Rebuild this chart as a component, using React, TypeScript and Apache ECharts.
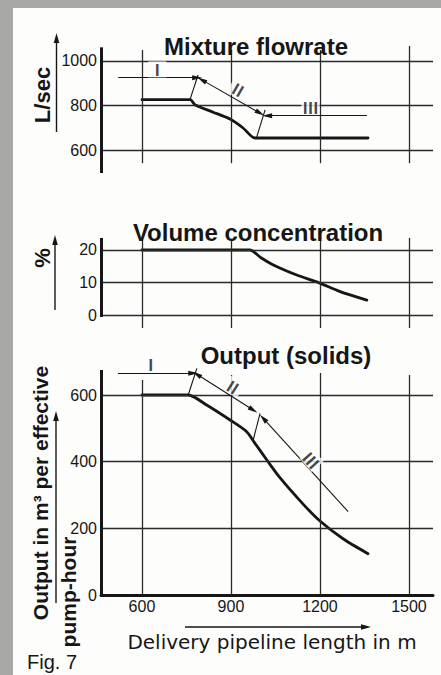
import React, { useEffect, useRef } from "react";
import * as echarts from "echarts";

// ---------- data ----------
const lengthTicks = [600, 900, 1200, 1500];

// Mixture flowrate (L/sec) vs delivery pipeline length (m)
const flowLength = [600, 762, 780, 840, 897, 941, 981, 1362];
const flowRate = [826, 826, 802, 770, 739, 699, 654, 654];
const flowTicks = [600, 800, 1000];

// Volume concentration (%)
const concLength = [600, 964, 1000, 1043, 1122, 1197, 1268, 1358];
const concPct = [20, 20, 17.7, 15.4, 12.3, 9.9, 7.2, 4.6];
const concTicks = [0, 10, 20];

// Output (solids), m3 per effective pump-hour
const outLength = [600, 756, 818, 897, 953, 981, 1021, 1065, 1144, 1200, 1279, 1362];
const outSolids = [600, 600, 570, 525, 490, 455, 405, 352, 272, 222, 168, 124];
const outTicks = [0, 200, 400, 600];

// Region annotations (data coordinates): [x1, y1, x2, y2, arrowAtStart, arrowAtEnd]
const flowRegionLines = [
  [520, 925, 786, 925, 0, 1],
  [789, 937, 762, 826, 0, 0],
  [802, 915, 998, 766, 1, 1],
  [1015, 780, 986, 655, 0, 0],
  [1358, 754, 1022, 754, 0, 1],
];
const outRegionLines = [
  [519, 665, 773, 665, 0, 1],
  [785, 680, 756, 600, 0, 0],
  [785, 662, 975, 555, 1, 1],
  [998, 545, 975, 465, 0, 0],
  [1295, 250, 1009, 530, 0, 1],
];
// Region labels: [text, x, y, rotation]
const flowRegionLabels: [string, number, number, number][] = [
  ["Ⅰ", 652, 962, 0],
  ["Ⅱ", 925, 873, -30],
  ["Ⅲ", 1168, 793, 0],
];
const outRegionLabels: [string, number, number, number][] = [
  ["Ⅰ", 630, 692, 0],
  ["Ⅱ", 908, 625, -32],
  ["Ⅲ", 1172, 405, -48],
];

// ---------- styling ----------
const INK = "#161616";
const GRID_INK = "#2a2a2a";
const SANS = '"Liberation Sans", Arial, sans-serif';
const X_MIN = 462;
const X_MAX = 1581;

function seg(a: number[], b: number[], width: number, color: string, s0 = 0, s1 = 0) {
  return [
    { coord: a, symbol: s0 ? "triangle" : "none", symbolSize: [5, 10], lineStyle: { width, color, type: "solid" } },
    { coord: b, symbol: s1 ? "triangle" : "none", symbolSize: [5, 10] },
  ];
}

function gridLines(hVals: number[], vLines: number[][], axis: number[]) {
  const out: any[] = [];
  hVals.forEach((v) => out.push(seg([X_MIN, v], [X_MAX, v], 1.3, GRID_INK)));
  vLines.forEach(([x, y0, y1]) => out.push(seg([x, y0], [x, y1], 1.3, GRID_INK)));
  out.push(seg([X_MIN, axis[0]], [X_MIN, axis[1]], 3, INK));
  return out;
}

function regionLines(list: number[][]) {
  return list.map(([x1, y1, x2, y2, a, b]) => seg([x1, y1], [x2, y2], 1.1, INK, a, b));
}

function frameSeries(i: number, data: any[]) {
  return {
    type: "line",
    xAxisIndex: i,
    yAxisIndex: i,
    data: [],
    z: 1,
    clip: false,
    silent: true,
    markLine: {
      silent: true,
      symbol: ["none", "none"],
      label: { show: false },
      lineStyle: { type: "solid" },
      data,
    },
  };
}

function curveSeries(i: number, xs: number[], ys: number[]) {
  return {
    type: "line",
    xAxisIndex: i,
    yAxisIndex: i,
    data: xs.map((x, k) => [x, ys[k]]),
    symbol: "none",
    smooth: 0.25,
    z: 3,
    lineStyle: { color: INK, width: 2.8, cap: "round", join: "round" },
  };
}

function labelSeries(i: number, list: [string, number, number, number][]) {
  return {
    type: "scatter",
    xAxisIndex: i,
    yAxisIndex: i,
    symbolSize: 1,
    z: 5,
    itemStyle: { color: "transparent" },
    data: list.map(([t, x, y, r]) => ({ name: t, value: [x, y], label: { rotate: r } })),
    label: {
      show: true,
      position: "inside",
      formatter: "{b}",
      fontFamily: '"Noto Sans CJK JP", serif',
      fontWeight: "bold",
      fontSize: 16,
      color: INK,
      backgroundColor: "#fdfdfc",
      padding: [0, 1],
    },
  };
}

function text(t: string, x: number, y: number, size: number, weight: string, opts: any = {}) {
  return {
    type: "text",
    x,
    y,
    z: 50,
    rotation: opts.rotation || 0,
    style: {
      text: t,
      fontSize: size,
      fontWeight: weight,
      fontFamily: opts.family || SANS,
      fill: INK,
      align: opts.align || "center",
      verticalAlign: "middle",
    },
  };
}

function arrowUp(x: number, yBottom: number, yTip: number) {
  return [
    { type: "line", shape: { x1: x, y1: yBottom, x2: x, y2: yTip + 8 }, style: { stroke: INK, lineWidth: 1.4 } },
    { type: "polygon", shape: { points: [[x, yTip], [x - 2.8, yTip + 10], [x + 2.8, yTip + 10]] }, style: { fill: INK } },
  ];
}

const plain = (v: number) => String(v);

export default function App() {
  const ref = useRef<HTMLDivElement>(null);
  useEffect(() => {
    if (!ref.current) return;
    const chart = echarts.init(ref.current, null, { renderer: "svg" });
    const yLabel = { margin: 4, fontSize: 16, color: INK, fontFamily: SANS, formatter: plain };
    chart.setOption({
      animation: false,
      backgroundColor: "#a8a9a4",
      graphic: [
        { type: "rect", z: -10, shape: { x: 13, y: 8, width: 428, height: 667 }, style: { fill: "#fdfdfc" } },
        text("Mixture flowrate", 256, 46, 24, "bold"),
        text("Volume concentration", 258, 232, 24, "bold"),
        text("Output (solids)", 286, 355, 24, "bold"),
        text("L/sec", 42, 95, 22, "bold", { rotation: Math.PI / 2 }),
        text("%", 42, 258, 22, "bold", { rotation: Math.PI / 2 }),
        text("Output in m³ per effective", 40, 493, 21, "bold", { rotation: Math.PI / 2 }),
        text("pump-hour", 68, 592, 21, "bold", { rotation: Math.PI / 2 }),
        text("Delivery pipeline length in m", 272, 642, 20, "normal", { family: '"DejaVu Sans", sans-serif' }),
        text("Fig. 7", 27, 662, 20, "normal", { align: "left" }),
        ...arrowUp(56.5, 132, 33),
        ...arrowUp(55, 310, 235),
        ...arrowUp(56, 603, 411),
        { type: "line", shape: { x1: 185, y1: 627, x2: 362, y2: 627 }, style: { stroke: INK, lineWidth: 1.4 } },
        { type: "polygon", shape: { points: [[371, 627], [361, 624.2], [361, 629.8]] }, style: { fill: INK } },
      ],
      grid: [
        { left: 101, right: 8, top: 46, height: 127 },
        { left: 101, right: 8, top: 236, height: 94 },
        { left: 101, right: 8, top: 361.67, height: 233.33 },
      ],
      xAxis: [0, 1, 2].map((i) => ({
        type: "value",
        gridIndex: i,
        min: X_MIN,
        max: X_MAX,
        show: i === 2,
        axisLine: { show: i === 2, lineStyle: { color: INK, width: 3 } },
        axisTick: { show: false },
        splitLine: { show: false },
        axisLabel: { show: i === 2, customValues: lengthTicks, margin: 3, fontSize: 16, color: INK, fontFamily: SANS, formatter: plain },
      })),
      yAxis: [
        { type: "value", gridIndex: 0, min: 497, max: 1067, axisLine: { show: false }, axisTick: { show: false }, splitLine: { show: false }, axisLabel: { ...yLabel, customValues: flowTicks } },
        { type: "value", gridIndex: 1, min: -4.6, max: 24.3, axisLine: { show: false }, axisTick: { show: false }, splitLine: { show: false }, axisLabel: { ...yLabel, customValues: concTicks } },
        { type: "value", gridIndex: 2, min: 0, max: 700, axisLine: { show: false }, axisTick: { show: false }, splitLine: { show: false }, axisLabel: { ...yLabel, customValues: outTicks } },
      ],
      series: [
        frameSeries(0, [
          ...gridLines(flowTicks, [[600, 541, 1049], [900, 541, 1049], [1200, 541, 1049], [1500, 541, 1067]], [497, 1061]),
          ...regionLines(flowRegionLines),
        ]),
        frameSeries(1, gridLines(concTicks, [[600, -4, 23.1], [900, -4, 23.1], [1200, -4, 23.1], [1500, -4, 23.7]], [-0.6, 23.7])),
        frameSeries(2, [
          ...gridLines([200, 400, 600], [[600, 0, 645], [900, 0, 660], [1200, 0, 666], [1500, 0, 660]], [0, 675]),
          ...regionLines(outRegionLines),
        ]),
        curveSeries(0, flowLength, flowRate),
        curveSeries(1, concLength, concPct),
        curveSeries(2, outLength, outSolids),
        labelSeries(0, flowRegionLabels),
        labelSeries(2, outRegionLabels),
      ],
    });
    return () => chart.dispose();
  }, []);
  return <div ref={ref} style={{ position: "absolute", left: 0, top: 0, width: 441, height: 675 }} />;
}
